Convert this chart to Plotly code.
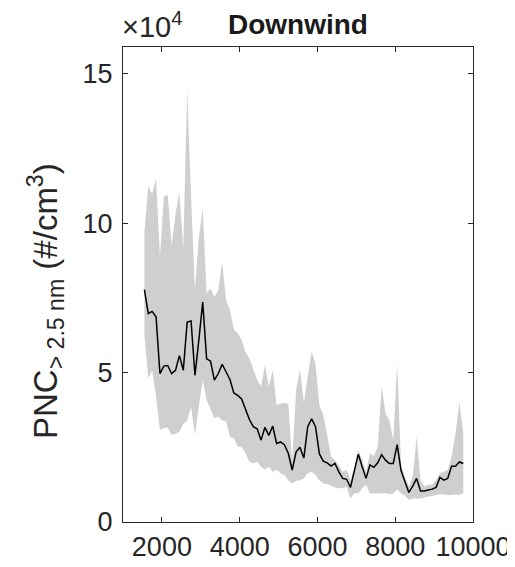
import plotly.graph_objects as go

# distance-like x values (bins of 100)
x_vals = [1550 + 100 * i for i in range(83)]

# mean PNC (units of 1e4 #/cm^3)
pnc_mean = [7.78, 6.98, 7.05, 6.87, 4.97, 5.22, 5.24, 4.97, 5.08, 5.57,
            5.08, 6.69, 6.73, 4.91, 6.09, 7.36, 5.46, 5.39, 4.75, 4.97,
            5.28, 5.03, 4.77, 4.32, 4.24, 4.12, 3.80, 3.43, 3.19, 3.12,
            2.74, 3.17, 2.90, 3.21, 2.63, 2.68, 2.59, 2.30, 1.74, 2.34,
            2.50, 2.14, 3.19, 3.45, 3.19, 2.28, 2.04, 1.98, 1.87, 1.96,
            1.68, 1.46, 1.43, 1.16, 1.72, 2.27, 1.85, 1.46, 1.91, 1.83,
            1.98, 2.25, 2.07, 1.96, 1.96, 2.59, 1.72, 1.35, 0.99, 1.20,
            1.46, 1.04, 1.04, 1.07, 1.10, 1.16, 1.49, 1.40, 1.46, 1.87,
            1.87, 2.01, 1.96]

# upper envelope of the shaded band
pnc_upper = [9.7, 11.24, 10.99, 11.48, 8.87, 10.90, 10.95, 9.26, 10.32, 11.04,
             9.15, 14.45, 10.9, 7.76, 9.54, 10.49, 7.65, 7.82, 7.54, 7.76,
             8.71, 7.42, 7.1, 6.45, 6.31, 6.09, 5.70, 5.47, 5.11, 4.75,
             4.53, 5.25, 4.53, 5.08, 3.91, 3.97, 3.99, 3.95, 2.02, 4.41,
             5.1, 4.0, 4.86, 5.70, 5.3, 3.9, 3.6, 2.9, 2.2, 2.07,
             1.9, 1.68, 1.74, 1.40, 1.8, 2.4, 2.1, 1.65, 2.3, 2.2,
             2.52, 4.55, 3.63, 3.41, 2.74, 5.31, 1.9, 1.5, 1.2, 1.52,
             2.85, 1.40, 1.2, 1.25, 1.25, 1.4, 1.63, 1.68, 1.74, 2.18,
             2.97, 4.02, 2.97]

# lower envelope of the shaded band
pnc_lower = [6.25, 4.81, 5.08, 4.19, 3.08, 3.15, 3.16, 2.91, 2.95, 3.01,
             3.28, 3.41, 3.86, 2.91, 3.86, 4.75, 4.08, 3.80, 3.47, 3.52,
             3.41, 3.36, 2.85, 2.80, 2.52, 2.52, 2.30, 2.02, 1.96, 2.02,
             1.85, 1.76, 1.85, 1.68, 1.74, 1.63, 1.57, 1.40, 1.29, 1.37,
             1.40, 1.46, 1.63, 1.68, 1.57, 1.40, 1.29, 1.27, 1.21, 1.16,
             1.13, 1.13, 1.18, 0.79, 0.96, 0.96, 1.13, 1.25, 0.95, 0.95,
             0.96, 0.95, 0.96, 0.93, 0.95, 1.09, 0.96, 0.88, 0.74, 0.79,
             0.79, 0.79, 0.82, 0.85, 0.88, 0.90, 0.93, 0.93, 0.90, 0.90,
             0.92, 0.90, 0.96]

x_ticks = [2000, 4000, 6000, 8000, 10000]
y_ticks = [0, 5, 10, 15]

FONT = "Arial, 'Liberation Sans', Helvetica, sans-serif"
AX = "#262626"

fig = go.Figure()
fig.add_trace(go.Scatter(x=x_vals, y=pnc_lower, mode="lines",
                         line=dict(width=0, color="rgba(0,0,0,0)"),
                         showlegend=False, hoverinfo="skip"))
fig.add_trace(go.Scatter(x=x_vals, y=pnc_upper, mode="lines",
                         line=dict(width=0, color="rgba(0,0,0,0)"),
                         fill="tonexty", fillcolor="rgb(207,207,207)",
                         showlegend=False, hoverinfo="skip"))
fig.add_trace(go.Scatter(x=x_vals, y=pnc_mean, mode="lines",
                         line=dict(width=1.5, color="black"),
                         showlegend=False))

# page body has an 8px margin: figure occupies 8..515 x 8..567
# target plot area on the page: x 123..473, y 47..522
fig.update_layout(
    width=507, height=559,
    margin=dict(l=115, r=42, t=39, b=45),
    paper_bgcolor="white", plot_bgcolor="white",
    font=dict(family=FONT, size=27, color=AX),
    title=dict(text="<b>Downwind</b>", xref="paper", x=0.5, xanchor="center",
               yref="container", y=1 - 16 / 559, yanchor="middle",
               font=dict(family=FONT, size=28, color="#1a1a1a")),
    xaxis=dict(range=[1000, 10000], tickvals=x_ticks,
               ticktext=[str(t) for t in x_ticks], automargin=False,
               showline=True, linecolor=AX, linewidth=1.3, mirror="allticks",
               ticks="inside", ticklen=5, tickwidth=1.2, tickcolor=AX,
               showgrid=False, zeroline=False, ticklabeloverflow="allow",
               tickfont=dict(size=27, color=AX)),
    yaxis=dict(range=[0, 15.9], tickvals=y_ticks,
               ticktext=[str(t) for t in y_ticks], automargin=False,
               showline=True, linecolor=AX, linewidth=1.3, mirror="allticks",
               ticks="inside", ticklen=5, tickwidth=1.2, tickcolor=AX,
               showgrid=False, zeroline=False, ticklabelstandoff=4,
               ticklabeloverflow="allow",
               tickfont=dict(size=27, color=AX)),
)

# y-axis label (rotated annotation)
fig.add_annotation(text="PNC<sub>&gt; 2.5 nm</sub> (#/cm<sup>3</sup>)",
                   xref="paper", yref="paper", x=(45 - 123) / 350,
                   y=(522 - 301) / 475, xanchor="center", yanchor="middle",
                   textangle=-90, showarrow=False,
                   font=dict(family=FONT, size=33, color=AX))

fig.add_annotation(text="×10<sup>4</sup>", xref="paper", yref="paper",
                   x=0.0, y=1.0, xanchor="left", yanchor="bottom",
                   yshift=2, xshift=-3, showarrow=False,
                   font=dict(family=FONT, size=29, color=AX))

fig.write_html("out.html")
